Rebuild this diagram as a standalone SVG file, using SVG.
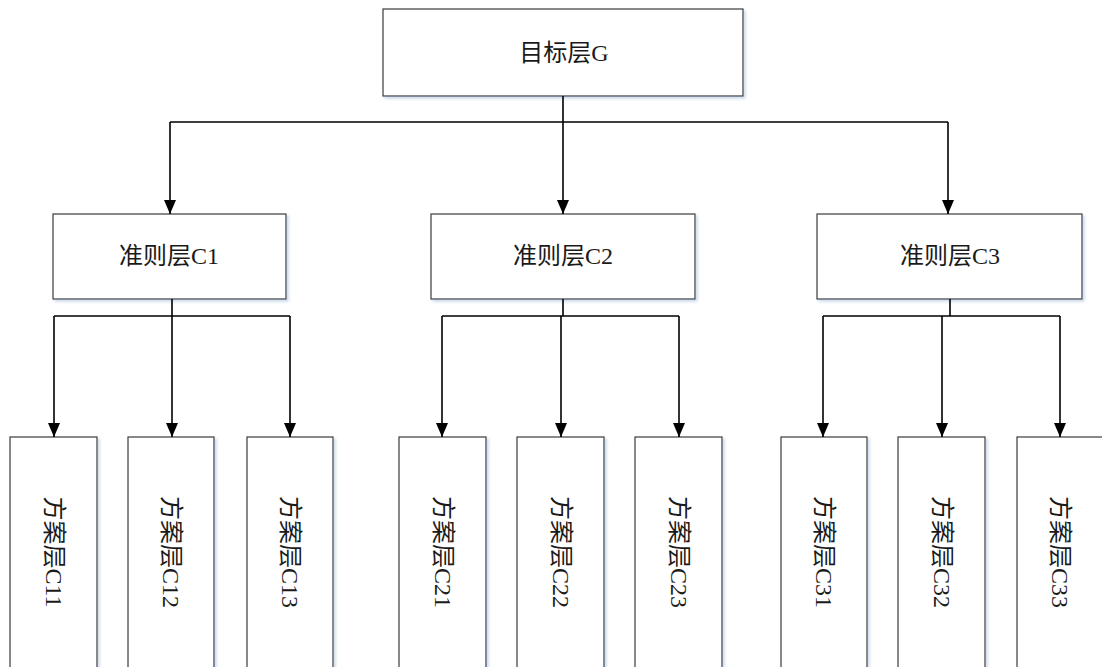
<svg xmlns="http://www.w3.org/2000/svg" width="1102" height="667" viewBox="0 0 1102 667">
<style>
.box{fill:#fff;stroke:#3a3a3a;stroke-width:1.2;filter:url(#sh)}
.lbl{font-family:"Liberation Serif","Noto Sans CJK SC",serif;font-size:24px;fill:#1a1a1a;text-anchor:middle;dominant-baseline:central}
.con{fill:none;stroke:#000;stroke-width:1.6}
.arr{marker-end:url(#ah)}
</style>
<defs>
<filter id="sh" x="-10%" y="-10%" width="130%" height="130%">
<feDropShadow dx="2" dy="2" stdDeviation="1.5" flood-color="#9db7d9" flood-opacity="0.55"/>
</filter>
<marker id="ah" markerUnits="userSpaceOnUse" markerWidth="14" markerHeight="12" viewBox="0 0 14 12" refX="14" refY="6" orient="auto">
<path d="M0,0 L14,6 L0,12 Z" fill="#000"/>
</marker>
</defs>
<rect width="1102" height="667" fill="#fff"/>
<g id="G"><rect class="box" x="383" y="9" width="360" height="87"/><text class="lbl" x="564" y="53">目标层G</text></g>
<g id="C1"><rect class="box" x="53" y="214" width="233" height="85"/><text class="lbl" x="169" y="256">准则层C1</text></g>
<g id="C2"><rect class="box" x="431" y="214" width="264" height="85"/><text class="lbl" x="563" y="256">准则层C2</text></g>
<g id="C3"><rect class="box" x="817" y="214" width="265" height="85"/><text class="lbl" x="950" y="256">准则层C3</text></g>
<g id="C11"><rect class="box" x="10" y="437" width="87" height="250"/><text class="lbl" transform="translate(53.5 552) rotate(90)">方案层C11</text></g>
<g id="C12"><rect class="box" x="128" y="437" width="86" height="250"/><text class="lbl" transform="translate(171 552) rotate(90)">方案层C12</text></g>
<g id="C13"><rect class="box" x="247" y="437" width="86" height="250"/><text class="lbl" transform="translate(290 552) rotate(90)">方案层C13</text></g>
<g id="C21"><rect class="box" x="399" y="437" width="87" height="250"/><text class="lbl" transform="translate(442.5 552) rotate(90)">方案层C21</text></g>
<g id="C22"><rect class="box" x="517" y="437" width="87" height="250"/><text class="lbl" transform="translate(560.5 552) rotate(90)">方案层C22</text></g>
<g id="C23"><rect class="box" x="635" y="437" width="87" height="250"/><text class="lbl" transform="translate(678.5 552) rotate(90)">方案层C23</text></g>
<g id="C31"><rect class="box" x="781" y="437" width="86" height="250"/><text class="lbl" transform="translate(824 552) rotate(90)">方案层C31</text></g>
<g id="C32"><rect class="box" x="898" y="437" width="87" height="250"/><text class="lbl" transform="translate(941.5 552) rotate(90)">方案层C32</text></g>
<g id="C33"><rect class="box" x="1017" y="437" width="87" height="250"/><text class="lbl" transform="translate(1060 552) rotate(90)">方案层C33</text></g>
<g id="connectors">
<path class="con" d="M563,96 V122 M170,122 H948 M172,299 V316 M54,316 H290 M563,299 V316 M442,316 H679 M950,299 V316 M823,316 H1060"/>
<path class="con arr" d="M170,122 V214"/>
<path class="con arr" d="M563,122 V214"/>
<path class="con arr" d="M948,122 V214"/>
<path class="con arr" d="M54,316 V437"/>
<path class="con arr" d="M172,316 V437"/>
<path class="con arr" d="M290,316 V437"/>
<path class="con arr" d="M442,316 V437"/>
<path class="con arr" d="M561,316 V437"/>
<path class="con arr" d="M679,316 V437"/>
<path class="con arr" d="M823,316 V437"/>
<path class="con arr" d="M942,316 V437"/>
<path class="con arr" d="M1060,316 V437"/>
</g>
</svg>
